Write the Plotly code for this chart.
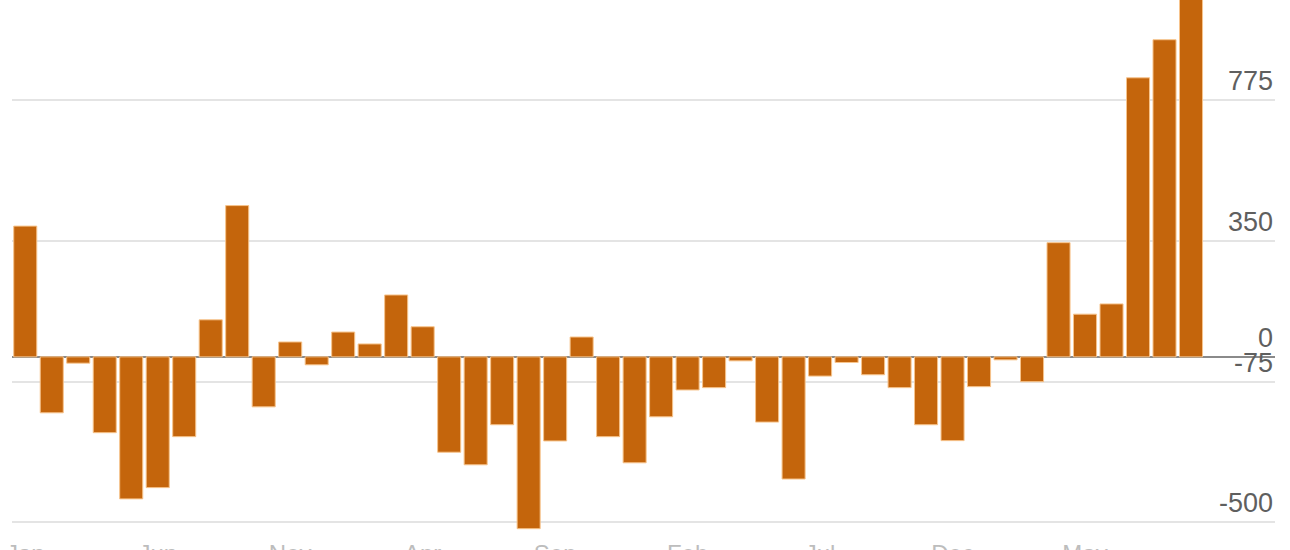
import plotly.graph_objects as go

# ---- data ----
periods = list(range(45))
values = [395, -169, -19, -229, -429, -395, -241, 112, 457, -151,
          45, -24, 75, 39, 187, 91, -288, -326, -205, -519,
          -254, 60, -241, -320, -181, -100, -93, -12, -197, -369,
          -58, -17, -54, -93, -205, -253, -90, -9, -75, 345,
          129, 160, 843, 958, 1150]
x_tick_pos = [0, 5, 10, 15, 20, 25, 30, 35, 40]
x_tick_text = ["Jan", "Jun", "Nov", "Apr", "Sep", "Feb", "Jul", "Dec", "May"]
y_ticks = [775, 350, 0, -75, -500]
y_tick_text = ["775", "350", "0", "-75", "-500"]

BAR = "#c4650c"
fig = go.Figure()
fig.add_trace(go.Bar(
    x=periods, y=values,
    marker=dict(color=BAR, line=dict(color="#f7c48c", width=1)),
    hoverinfo="x+y",
))

annotations = []
for v, t in zip(y_ticks, y_tick_text):
    annotations.append(dict(
        x=1, xref="paper", y=v, yref="y", text=t, showarrow=False,
        xanchor="right", yanchor="middle", yshift=19,
        font=dict(family="Liberation Sans, Arial, sans-serif", size=27, color="#5f5f5f"),
    ))

fig.update_layout(
    width=1290, height=550,
    margin=dict(l=12, r=15, t=0, b=18, pad=0),
    paper_bgcolor="white", plot_bgcolor="white",
    bargap=0.13, showlegend=False,
    annotations=annotations,
    xaxis=dict(
        range=[-0.5, 47.17], tickmode="array", tickvals=x_tick_pos, ticktext=x_tick_text,
        showgrid=False, zeroline=False, showline=False, ticks="", automargin=False,
        ticklabelstandoff=5,
        tickfont=dict(family="Liberation Sans, Arial, sans-serif", size=24, color="#bdbdbd"),
    ),
    yaxis=dict(
        range=[-529, 1078], tickmode="array", tickvals=y_ticks, automargin=False,
        showticklabels=False, showgrid=True, gridcolor="#e4e4e4", gridwidth=2,
        zeroline=True, zerolinecolor="#8a8a8a", zerolinewidth=2, ticks="",
    ),
)

fig.write_html("out.html", config={"displayModeBar": False},
               post_script="document.body.style.margin='0';")
